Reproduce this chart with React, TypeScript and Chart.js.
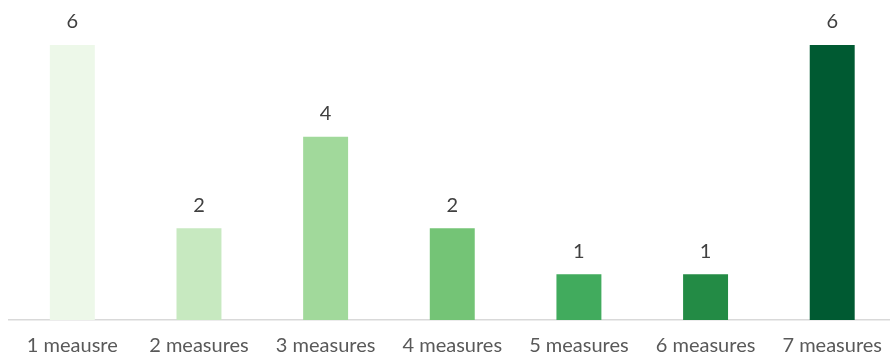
import React, { useEffect, useRef } from "react";
import { Chart, registerables } from "chart.js";

Chart.register(...registerables);

const categories = ["1 meausre", "2 measures", "3 measures", "4 measures", "5 measures", "6 measures", "7 measures"];
const counts = [6, 2, 4, 2, 1, 1, 6];
const barColors = ["#EDF8E9", "#C7E9C0", "#A1D99B", "#74C476", "#41AB5D", "#238B45", "#005A32"];

const FONT = "Lato, 'DejaVu Sans', sans-serif";

const valueLabels = {
  id: "valueLabels",
  afterDatasetsDraw(chart: any) {
    const ctx = chart.ctx;
    const meta = chart.getDatasetMeta(0);
    ctx.save();
    ctx.font = `20px ${FONT}`;
    ctx.fillStyle = "#404040";
    ctx.textAlign = "center";
    ctx.textBaseline = "middle";
    meta.data.forEach((bar: any, i: number) => {
      ctx.fillText(String(counts[i]), bar.x, bar.y - 23);
    });
    ctx.restore();
  },
};

export default function App() {
  const ref = useRef<HTMLCanvasElement>(null);
  useEffect(() => {
    if (!ref.current) return;
    const chart = new Chart(ref.current, {
      type: "bar",
      data: {
        labels: categories,
        datasets: [
          {
            data: counts,
            backgroundColor: barColors,
            borderWidth: 0,
            barPercentage: 0.355,
            categoryPercentage: 1,
          },
        ],
      },
      options: {
        responsive: false,
        animation: false,
        devicePixelRatio: 1,
        layout: { padding: { left: 9, right: 0, top: 45, bottom: -10 } },
        plugins: { legend: { display: false }, tooltip: { enabled: false } },
        scales: {
          x: {
            grid: { display: false, drawTicks: false },
            border: { display: true, color: "#D9D9D9", width: 1.5 },
            ticks: {
              color: "#595959",
              font: { family: FONT, size: 20 },
              padding: 14,
              maxRotation: 0,
              autoSkip: false,
            },
          },
          y: { display: false, min: 0, max: 6 },
        },
      },
      plugins: [valueLabels],
    });
    return () => chart.destroy();
  }, []);
  return (
    <div style={{ position: "fixed", left: 0, top: 0, width: 890, height: 362, overflow: "hidden", background: "#fff" }}>
      <canvas ref={ref} width={896} height={362} style={{ display: "block" }} />
    </div>
  );
}
